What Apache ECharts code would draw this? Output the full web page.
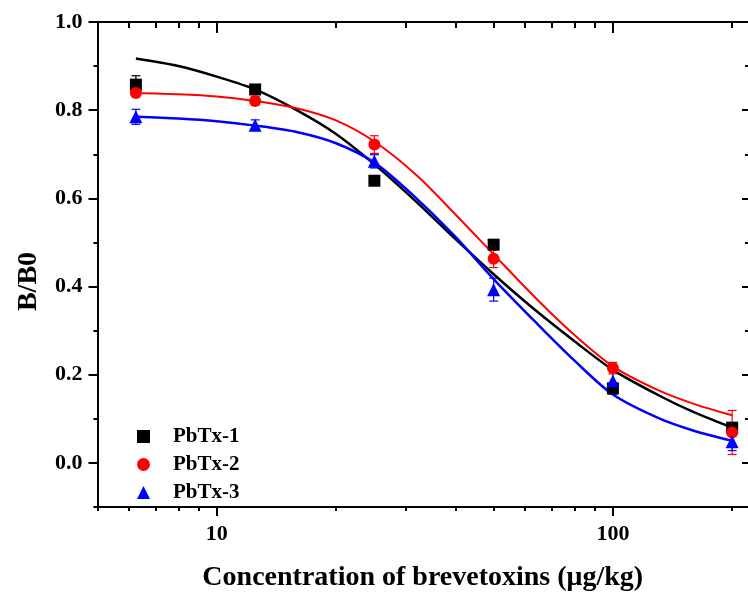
<!DOCTYPE html>
<html>
<head>
<meta charset="utf-8">
<script src="https://cdn.jsdelivr.net/npm/echarts@6/dist/echarts.min.js"></script>
<style>
html,body{margin:0;padding:0;background:#fff;}
#chart{width:748px;height:592px;}
</style>
</head>
<body>
<div id="chart"></div>
<script>
// ---- data ----
const concentrations = [6.25, 12.5, 25, 50, 100, 200];
const pbtx1 = [0.858, 0.847, 0.640, 0.495, 0.169, 0.080];
const pbtx1Err = [0.020, 0.006, 0.006, 0.010, 0.012, 0.008];
const pbtx2 = [0.839, 0.821, 0.722, 0.463, 0.215, 0.069];
const pbtx2Err = [0.006, 0.010, 0.020, 0.020, 0.013, 0.050];
const pbtx3 = [0.785, 0.766, 0.684, 0.393, 0.186, 0.048];
const pbtx3Err = [0.017, 0.012, 0.015, 0.026, 0.030, 0.020];

const fitConc = [6.25, 8, 10, 12.5, 16, 20, 25, 32, 40, 50, 64, 80, 100, 130, 160, 200];
const fit1 = [0.917, 0.900, 0.876, 0.847, 0.799, 0.746, 0.677, 0.591, 0.508, 0.428, 0.345, 0.276, 0.211, 0.154, 0.115, 0.080];
const fit2 = [0.839, 0.836, 0.831, 0.821, 0.804, 0.777, 0.729, 0.652, 0.564, 0.473, 0.373, 0.290, 0.219, 0.165, 0.134, 0.108];
const fit3 = [0.785, 0.781, 0.775, 0.765, 0.750, 0.725, 0.681, 0.599, 0.513, 0.417, 0.318, 0.232, 0.155, 0.102, 0.073, 0.050];

const seriesNames = ['PbTx-1', 'PbTx-2', 'PbTx-3'];
const colors = ['#000000', '#ff0000', '#0000ff'];
const symbols = ['rect', 'circle', 'triangle'];

const xMajorTicks = [10, 100];
const xMinorTicks = [5, 6, 7, 8, 9, 20, 30, 40, 50, 60, 70, 80, 90, 200];
const yMajorTicks = [0.0, 0.2, 0.4, 0.6, 0.8, 1.0];
const yMinorTicks = [-0.1, 0.1, 0.3, 0.5, 0.7, 0.9];

const X_MIN = 5, X_MAX = 219.3, Y_MIN = -0.1, Y_MAX = 1.0;
const FONT = 'Liberation Serif';

const pts = [pbtx1, pbtx2, pbtx3];
const errs = [pbtx1Err, pbtx2Err, pbtx3Err];
const fits = [fit1, fit2, fit3];

function xAxisDef(pos, major, inside, showLine, showLabel) {
  return {
    type: 'log', logBase: 10, min: X_MIN, max: X_MAX, position: pos,
    axisLine: {show: showLine, onZero: false, lineStyle: {color: '#000', width: 2}},
    axisTick: {show: true, inside: inside, length: major ? (inside ? 11 : 9) : (inside ? 6 : 4),
      customValues: major ? xMajorTicks : xMinorTicks, lineStyle: {color: '#000', width: 2}},
    minorTick: {show: false},
    axisLabel: {show: showLabel, customValues: xMajorTicks, margin: 16,
      color: '#000', fontFamily: FONT, fontWeight: 'bold', fontSize: 22},
    splitLine: {show: false}
  };
}
function yAxisDef(pos, major, inside, showLine, showLabel, tickLen) {
  return {
    type: 'value', min: Y_MIN, max: Y_MAX, position: pos,
    axisLine: {show: showLine, onZero: false, lineStyle: {color: '#000', width: 2}},
    axisTick: {show: true, inside: inside, length: tickLen,
      customValues: major ? yMajorTicks : yMinorTicks, lineStyle: {color: '#000', width: 2}},
    axisLabel: {show: showLabel, customValues: yMajorTicks, margin: 15,
      formatter: v => v.toFixed(1),
      color: '#000', fontFamily: FONT, fontWeight: 'bold', fontSize: 22},
    splitLine: {show: false}
  };
}

const xAxes = [
  Object.assign(xAxisDef('bottom', true, false, true, true), {
    name: 'Concentration of brevetoxins (\u03bcg/kg)', nameLocation: 'middle', nameGap: 57,
    nameTextStyle: {color: '#000', fontFamily: FONT, fontWeight: 'bold', fontSize: 28}
  }),
  xAxisDef('bottom', false, false, false, false),
  xAxisDef('top', true, true, true, false),
  xAxisDef('top', false, true, false, false)
];
const yAxes = [
  Object.assign(yAxisDef('left', true, false, true, true, 9), {
    name: 'B/B0', nameLocation: 'middle', nameGap: 55,
    nameTextStyle: {color: '#000', fontFamily: FONT, fontWeight: 'bold', fontSize: 28, padding: [0, 34, 0, 0]}
  }),
  yAxisDef('left', false, false, false, false, 4),
  yAxisDef('right', true, true, false, false, 6),
  yAxisDef('right', false, true, false, false, 3)
];

const series = [];
for (let i = 0; i < 3; i++) {
  series.push({
    name: seriesNames[i] + ' fit', type: 'line', smooth: 0.3, showSymbol: false, z: 3,
    data: fitConc.map((c, k) => [c, fits[i][k]]),
    lineStyle: {color: colors[i], width: i === 1 ? 2 : 2.5},
    silent: true
  });
  series.push({
    name: seriesNames[i] + ' err', type: 'custom', z: 2,
    data: concentrations.map((c, k) => [c, pts[i][k], errs[i][k]]),
    encode: {x: 0, y: 1},
    renderItem: (function (col) {
      return function (params, api) {
        const x = api.value(0), y = api.value(1), e = api.value(2);
        const t = api.coord([x, y + e]);
        const b = api.coord([x, y - e]);
        const hw = 4.5;
        const st = {stroke: col, lineWidth: 1.2};
        return {type: 'group', children: [
          {type: 'line', shape: {x1: t[0], y1: t[1], x2: b[0], y2: b[1]}, style: st},
          {type: 'line', shape: {x1: t[0] - hw, y1: t[1], x2: t[0] + hw, y2: t[1]}, style: st},
          {type: 'line', shape: {x1: b[0] - hw, y1: b[1], x2: b[0] + hw, y2: b[1]}, style: st}
        ]};
      };
    })(colors[i])
  });
  series.push({
    name: seriesNames[i], type: 'scatter', z: 4,
    symbol: symbols[i], symbolSize: i === 2 ? 13 : 12,
    itemStyle: {color: colors[i], opacity: 1},
    data: concentrations.map((c, k) => [c, pts[i][k]])
  });
}

const chart = echarts.init(document.getElementById('chart'), null, {renderer: 'canvas'});
chart.setOption({
  animation: false,
  backgroundColor: '#ffffff',
  grid: {left: 97.5, top: 22, right: 0, bottom: 85, containLabel: false, outerBoundsMode: 'none'},
  legend: {
    data: seriesNames.map((n, i) => ({name: n, icon: symbols[i]})),
    orient: 'vertical', left: 132, top: 421, itemGap: 7,
    itemWidth: 13, itemHeight: 13,
    textStyle: {color: '#000', fontFamily: FONT, fontWeight: 'bold', fontSize: 21, padding: [0, 0, 0, 18]},
    selectedMode: false
  },
  xAxis: xAxes,
  yAxis: yAxes,
  series: series
});
</script>
</body>
</html>
